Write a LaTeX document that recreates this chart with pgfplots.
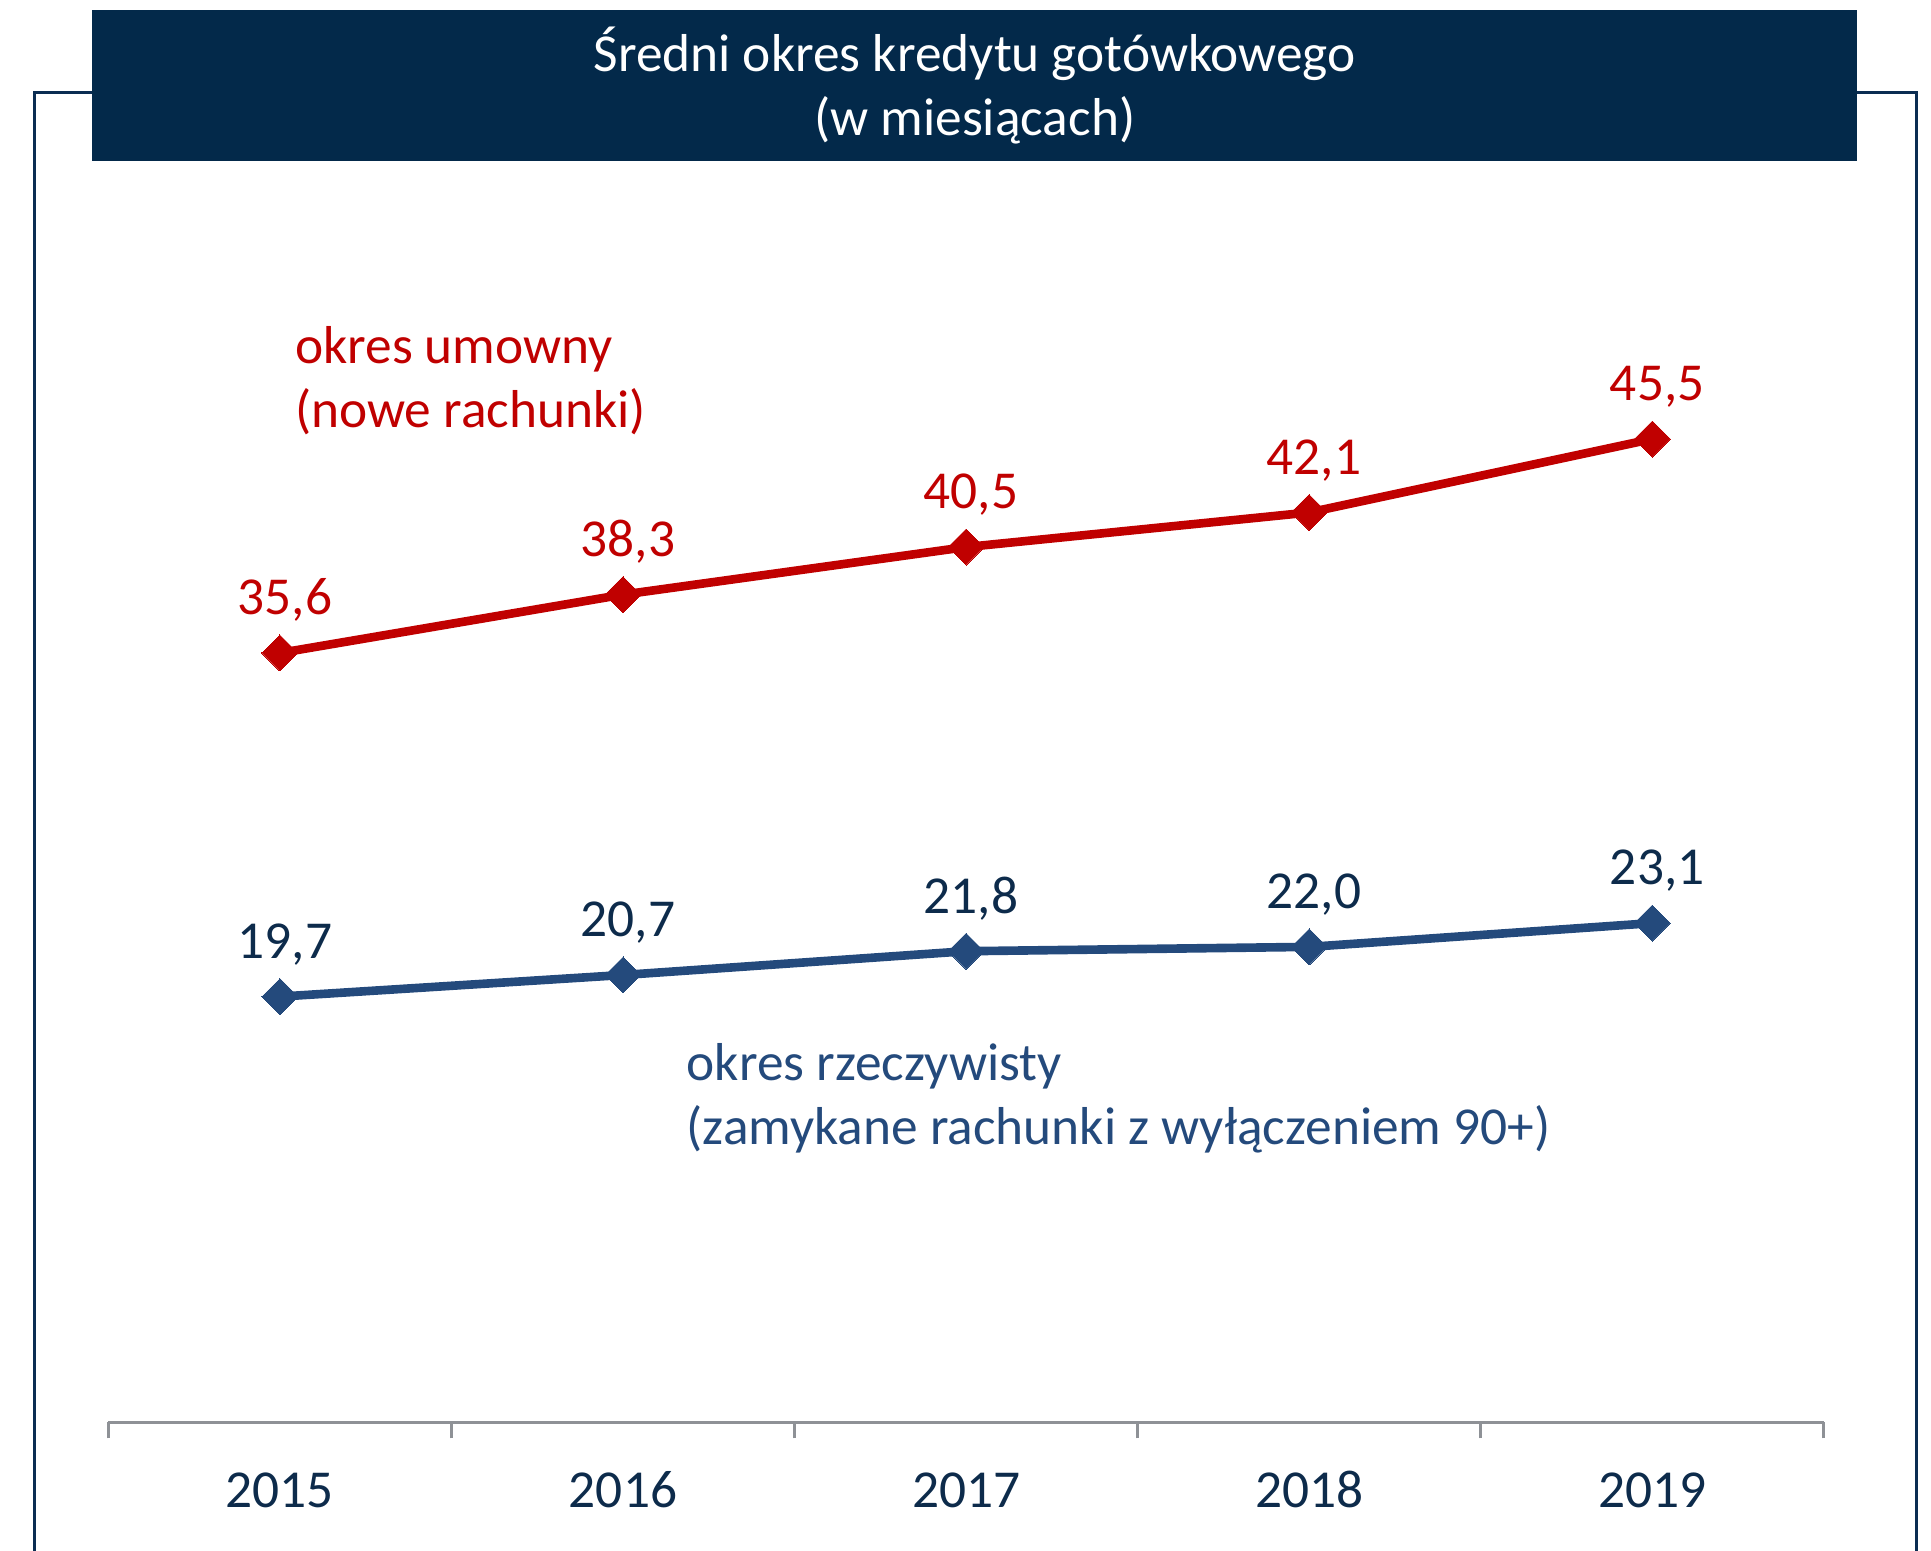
\documentclass[border=0pt]{standalone}
\usepackage{fontspec}
\setmainfont{Carlito}
\usepackage{pgfplots}
\pgfplotsset{compat=1.18}
\definecolor{navy}{HTML}{03294A}
\definecolor{framec}{HTML}{0B2D52}
\definecolor{txtnavy}{HTML}{0D2B4B}
\definecolor{lblue}{HTML}{244A7C}
\definecolor{lred}{HTML}{C00000}
\definecolor{axgray}{HTML}{8E9196}
\begin{document}
\begin{tikzpicture}[x=0.3pt,y=0.3pt,font=\fontsize{13}{15.6}\selectfont]
\path[use as bounding box] (0,0) rectangle (1568,1259);
\draw[framec,line width=0.8pt] (28,-5) -- (28,1184) -- (1556,1184) -- (1556,-5);
\fill[navy] (75,1128) rectangle (1508,1251);
\node[white,anchor=base,inner sep=0pt] at (791.5,1201) {Średni okres kredytu gotówkowego};
\node[white,anchor=base,inner sep=0pt] at (791.5,1149) {(w miesiącach)};
\node[lred,anchor=base west,inner sep=0pt] at (239,964) {okres umowny};
\node[lred,anchor=base west,inner sep=0pt] at (239,912) {(nowe rachunki)};
\node[lblue,anchor=base west,inner sep=0pt] at (557,382) {okres rzeczywisty};
\node[lblue,anchor=base west,inner sep=0pt] at (557,330) {(zamykane rachunki z wyłączeniem 90+)};
\begin{axis}[
  at={(26.4pt,31.2pt)}, anchor=south west,
  scale only axis, width=417.9pt, height=315.9pt,
  xmin=-0.5, xmax=4.5, ymin=0, ymax=60,
  clip=false,
  axis x line=bottom, axis y line=none,
  x axis line style={-, axgray, line width=0.7pt},
  xtick={0,1,2,3,4},
  xticklabels={2015,2016,2017,2018,2019},
  major tick length=0pt,
  minor xtick={-0.5,0.5,1.5,2.5,3.5,4.5},
  minor tick length=3.9pt,
  tick align=outside,
  minor tick style={axgray, line width=0.7pt},
  xticklabel style={anchor=base, inner sep=0pt, yshift=-20.7pt, text=txtnavy},
  nodes near coords={\pgfmathprintnumber[fixed,precision=1,fixed zerofill,use comma,assume math mode=true]{\pgfplotspointmeta}},
  every node near coord/.append style={anchor=base, inner sep=0pt, yshift=9.3pt, xshift=1.2pt},
]
\addplot[lred, line width=2.1pt, mark=square*, mark size=3.1pt, mark options={solid,rotate=45,fill=lred,draw=lred,line width=0pt},
  every node near coord/.append style={text=lred}]
  coordinates {(0,35.6) (1,38.3) (2,40.5) (3,42.1) (4,45.5)};
\addplot[lblue, line width=2.1pt, mark=square*, mark size=3.1pt, mark options={solid,rotate=45,fill=lblue,draw=lblue,line width=0pt},
  every node near coord/.append style={text=txtnavy}]
  coordinates {(0,19.7) (1,20.7) (2,21.8) (3,22.0) (4,23.1)};
\end{axis}
\end{tikzpicture}
\end{document}
